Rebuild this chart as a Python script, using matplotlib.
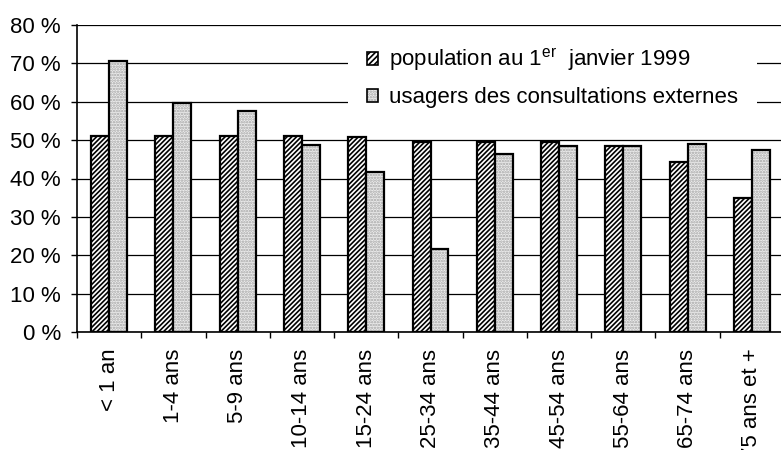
import matplotlib
matplotlib.use("Agg")
import matplotlib.pyplot as plt
import numpy as np
from matplotlib.patches import Patch
from matplotlib.legend_handler import HandlerTuple

categories = ["< 1 an", "1-4 ans", "5-9 ans", "10-14 ans", "15-24 ans", "25-34 ans",
              "35-44 ans", "45-54 ans", "55-64 ans", "65-74 ans", "75 ans et +"]
population = [51.0, 51.0, 51.0, 51.0, 50.7, 49.4, 49.4, 49.4, 48.5, 44.3, 34.8]
usagers = [70.5, 59.6, 57.6, 48.6, 41.6, 21.6, 46.4, 48.5, 48.5, 48.9, 47.3]
yticks = [0, 10, 20, 30, 40, 50, 60, 70, 80]
label_pop = "population au 1$^{\\mathrm{er}}$  janvier 1999"
label_usa = "usagers des consultations externes"

plt.rcParams['font.family'] = ['Liberation Sans', 'DejaVu Sans']
plt.rcParams['mathtext.fontset'] = 'custom'
plt.rcParams['mathtext.rm'] = 'Liberation Sans'
plt.rcParams['hatch.linewidth'] = 1.2

fig = plt.figure(figsize=(7.81, 4.5), dpi=100)
ax = fig.add_axes([77/781, 1-332/450, (784-77)/781, (332-25)/450])

x = np.arange(len(categories))
w = 0.28
fs = 16

# population: black diagonal hatch
ax.bar(x - w/2, population, w, facecolor='white', edgecolor='black', hatch='///////',
       linewidth=1.6, zorder=3)
# usagers: fine grey stipple
ax.bar(x + w/2, usagers, w, facecolor='#ededed', edgecolor='#a4a4a4', hatch='......',
       linewidth=0, zorder=3)
ax.bar(x + w/2, usagers, w, fill=False, edgecolor='black', linewidth=1.6, zorder=4)

ax.set_xlim(-0.5, len(categories) - 0.5)
ax.set_ylim(0, 80)
ax.set_yticks(yticks)
ax.set_yticklabels([f"{v} %" for v in yticks], fontsize=fs)
ax.yaxis.grid(True, color='black', linewidth=0.9, zorder=0)
ax.set_axisbelow(True)

ax.set_xticks(np.arange(len(categories) + 1) - 0.5)
ax.set_xticklabels([])
ax.set_xticks(x, minor=True)
ax.set_xticklabels(categories, minor=True, rotation=90, fontsize=fs)
ax.tick_params(axis='x', which='minor', length=0, pad=12)
ax.tick_params(axis='x', which='major', length=4, width=1, direction='out')
ax.tick_params(axis='y', length=4.5, width=1, pad=7)

for s in ['top', 'right']:
    ax.spines[s].set_visible(False)
for s in ['left', 'bottom']:
    ax.spines[s].set_linewidth(1.2)

h_pop = Patch(facecolor='white', edgecolor='black', hatch='//////', linewidth=1.2)
h_usa_fill = Patch(facecolor='#ededed', edgecolor='#a4a4a4', hatch='......', linewidth=0)
h_usa_edge = Patch(fill=False, edgecolor='black', linewidth=1.2)
leg = ax.legend([h_pop, (h_usa_fill, h_usa_edge)], [label_pop, label_usa],
                handler_map={tuple: HandlerTuple(ndivide=1, pad=0)},
                loc='upper left', bbox_to_anchor=(348/781, 1-28/450),
                bbox_transform=fig.transFigure, fontsize=fs,
                handlelength=0.5, handleheight=0.5, handletextpad=0.5,
                labelspacing=0.62, borderpad=0.85, borderaxespad=0,
                frameon=True, fancybox=False, framealpha=1,
                facecolor='white', edgecolor='none')
leg.set_zorder(5)

fig.savefig("out.png", dpi=100)
